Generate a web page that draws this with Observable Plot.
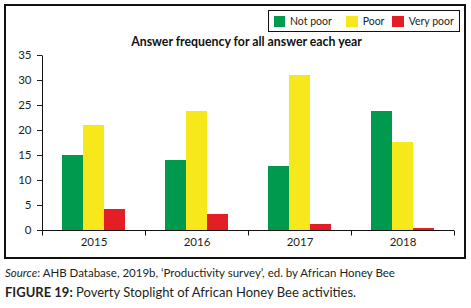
<!DOCTYPE html>
<html><head><meta charset="utf-8">
<script src="https://cdn.jsdelivr.net/npm/d3@7"></script>
<script src="https://cdn.jsdelivr.net/npm/@observablehq/plot@0.6"></script>
<style>
body{margin:0;background:#fff;font-family:Lato,sans-serif;color:#231f20;}
#frame{position:absolute;left:4px;top:4px;width:462px;height:255px;border:2px solid #111;box-sizing:border-box;}
#chart{position:absolute;left:0;top:0;}
#legend{position:absolute;left:262px;top:4px;width:192px;height:22px;border:1.5px solid #111;box-sizing:border-box;display:flex;align-items:center;padding-left:4.5px;font-size:10.5px;line-height:1;}
#legend .item{display:flex;align-items:center;}
#legend .sw{width:11.5px;height:11px;margin-right:5px;}
#title{position:absolute;left:240.5px;top:30.1px;transform:translateX(-50%);white-space:nowrap;font-weight:bold;font-size:12.3px;line-height:12.3px;color:#111;}
#source{position:absolute;left:5px;top:266.5px;font-size:11.5px;line-height:11.5px;white-space:nowrap;}
#figcap{position:absolute;left:5px;top:285.8px;font-size:13px;line-height:13px;white-space:nowrap;}
</style></head>
<body>
<div id="frame">
  <div id="chart"></div>
  <div id="legend"></div>
  <div id="title"></div>
</div>
<div id="source"><i>Source</i>: AHB Database, 2019b, ‘Productivity survey’, ed. by African Honey Bee</div>
<div id="figcap"><b>FIGURE 19:</b> Poverty Stoplight of African Honey Bee activities.</div>
<script>
const years = ["2015", "2016", "2017", "2018"];
const categories = ["Not poor", "Poor", "Very poor"];
const notPoor = [15, 14, 12.8, 23.8];
const poor = [21, 23.8, 31, 17.6];
const veryPoor = [4.2, 3.2, 1.2, 0.4];
const colors = ["#009a4e", "#f7e81b", "#e31e24"];
const yTicks = [0, 5, 10, 15, 20, 25, 30, 35];
const chartTitle = "Answer frequency for all answer each year";

const series = [notPoor, poor, veryPoor];
const rows = years.flatMap((year, i) => categories.map((cat, j) => ({year, cat, value: series[j][i]})));

document.getElementById("title").textContent = chartTitle;
const legendWidths = [72.7, 46, null];
const legend = document.getElementById("legend");
categories.forEach((c, i) => {
  const it = document.createElement("div");
  it.className = "item";
  if (legendWidths[i]) it.style.width = legendWidths[i] + "px";
  const sw = document.createElement("div");
  sw.className = "sw";
  sw.style.background = colors[i];
  const t = document.createElement("span");
  t.textContent = c;
  it.appendChild(sw); it.appendChild(t);
  legend.appendChild(it);
});

const chart = Plot.plot({
  width: 458,
  height: 251,
  marginLeft: 35,
  marginRight: 10,
  marginTop: 49,
  marginBottom: 27,
  style: {fontFamily: "Lato", fontSize: "11.5px", color: "#231f20", background: "transparent"},
  fx: {domain: years, padding: 0, label: null, tickSize: 0, tickPadding: 7, axis: "bottom"},
  x: {domain: categories, paddingInner: 0, paddingOuter: 0.895, axis: null},
  y: {domain: [0, 35], ticks: yTicks, label: null, tickSize: 5, tickPadding: 6},
  color: {domain: categories, range: colors},
  marks: [
    Plot.barY(rows, {fx: "year", x: "cat", y: "value", fill: "cat"}),
    Plot.ruleY([0], {stroke: "#111"})
  ]
});
document.getElementById("chart").appendChild(chart);

// axis line and category boundary ticks from the plot's own scales
const fx = chart.scale("fx");
const y = chart.scale("y");
const svg = d3.select(chart);
const g = svg.append("g").attr("stroke", "#111").attr("transform", "translate(0.5,0.5)");
const x0 = fx.apply(years[0]);
g.append("line").attr("x1", x0).attr("x2", x0).attr("y1", y.apply(0)).attr("y2", y.apply(yTicks[yTicks.length - 1]));
const edges = years.map(yr => fx.apply(yr)).concat([fx.apply(years[years.length - 1]) + fx.bandwidth]);
edges.forEach(e => {
  g.append("line").attr("x1", e).attr("x2", e).attr("y1", y.apply(0)).attr("y2", y.apply(0) + 5);
});
</script>
</body></html>
